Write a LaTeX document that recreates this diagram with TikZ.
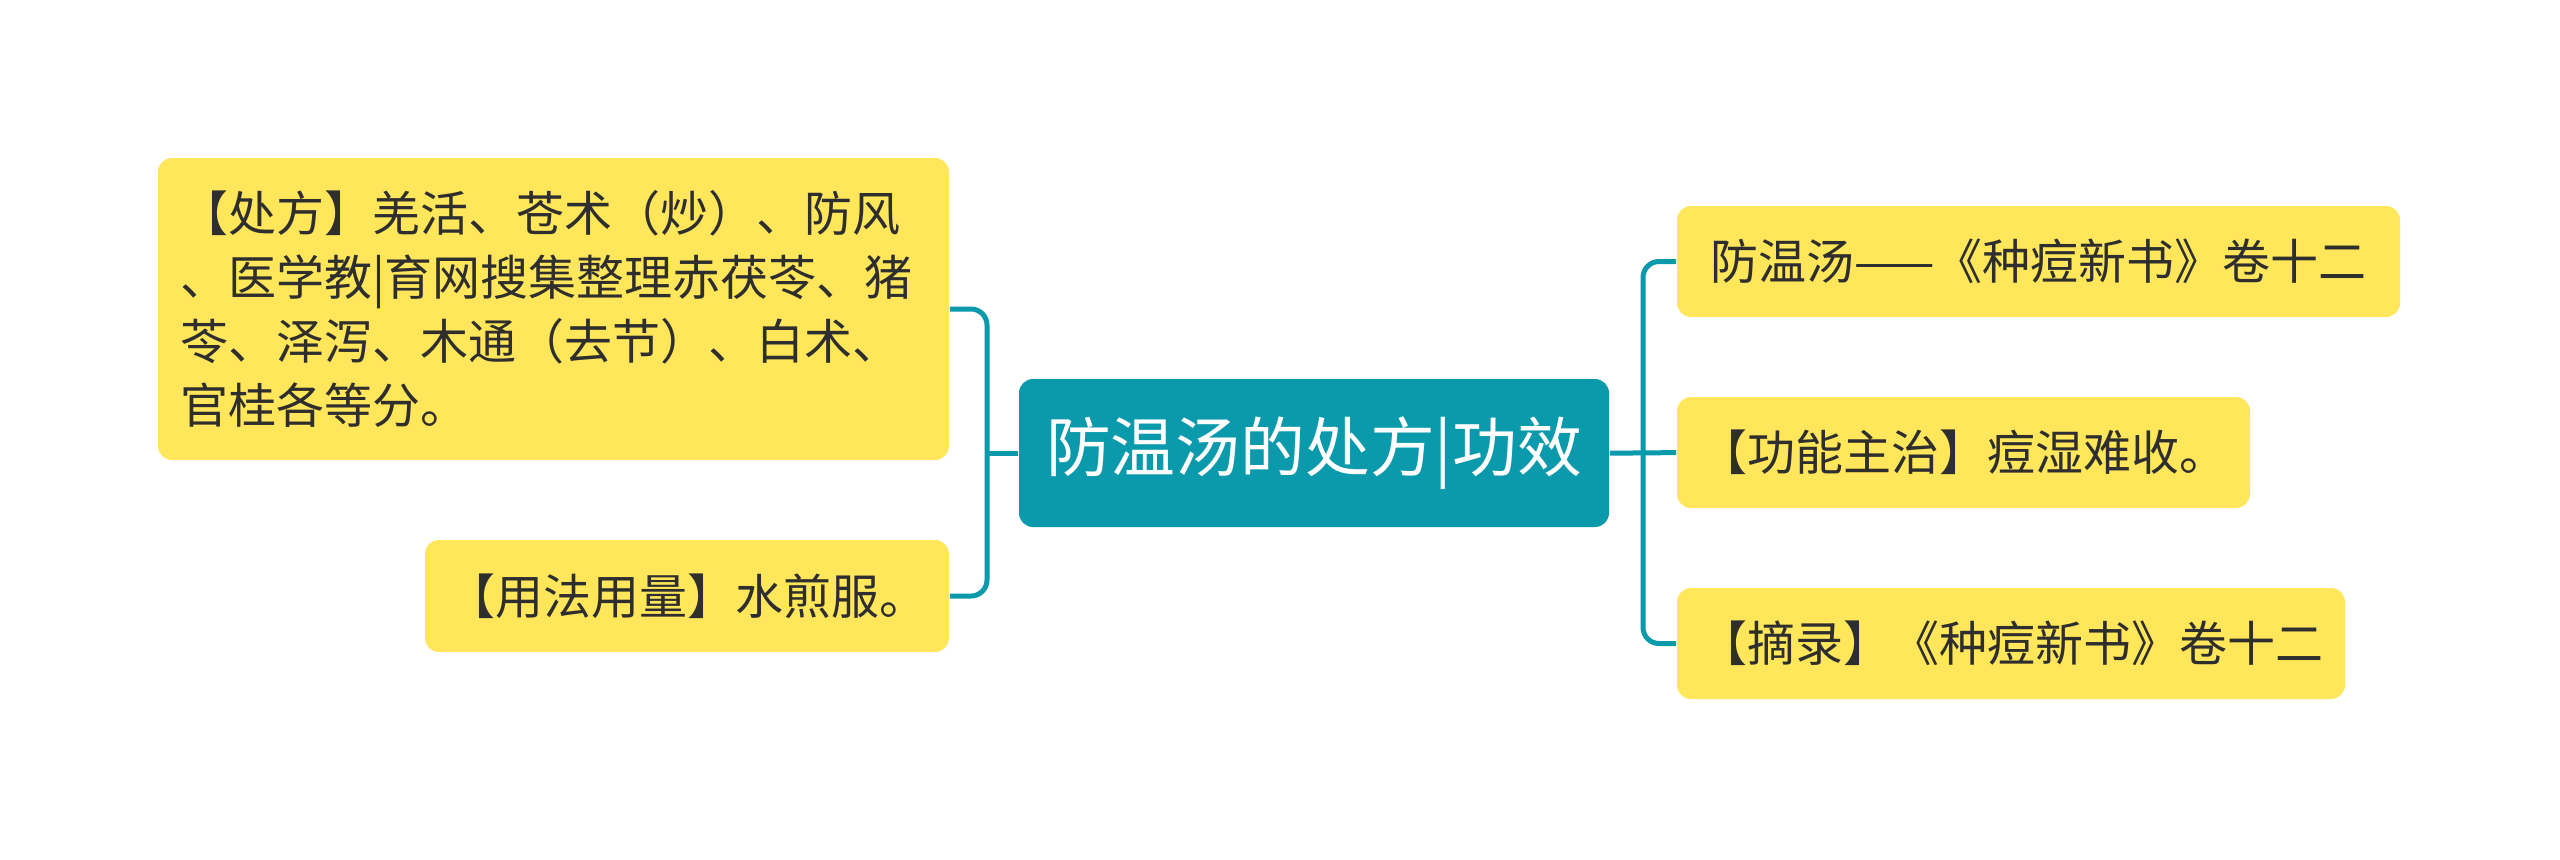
\documentclass[tikz,border=0pt]{standalone}
\usepackage{fontspec}
\setmainfont{Noto Sans CJK SC}
\definecolor{tealc}{HTML}{0A9AAC}
\definecolor{yel}{HTML}{FFE65A}
\definecolor{txtc}{HTML}{2E2E2E}
\begin{document}
\begin{tikzpicture}[x=0.25pt,y=-0.25pt,
  leaf/.style={fill=yel, draw=none, rounded corners=3.5pt, inner xsep=0pt, inner ysep=0pt,
    text=txtc, font=\fontsize{12}{16}\selectfont, minimum height=27.75pt},
  root/.style={fill=tealc, draw=none, rounded corners=3.5pt, inner sep=0pt,
    text=white, font=\fontsize{16.2}{20}\selectfont, minimum width=147.5pt, minimum height=37pt},
  conn/.style={draw=tealc, line width=1.25pt, rounded corners=4pt}]
\useasboundingbox (0,0) rectangle (2560,859);
\fill[white] (0,0) rectangle (2560,859);

\node[root] (c) at (1314,453) {防温汤的处方|功效};

\node[leaf, minimum height=75.5pt, text width=186.75pt, inner xsep=5.5pt, align=left] (b1) at (553.5,309)
  {【处方】羌活、苍术（炒）、防风\\、医学教|育网搜集整理赤茯苓、猪\\苓、泽泻、木通（去节）、白术、\\官桂各等分。};
\node[leaf, minimum width=131pt, minimum height=28pt] (b2) at (687,596) {【用法用量】水煎服。};

\node[leaf, minimum width=180.75pt] (r1) at (2038.5,261.5) {防温汤——《种痘新书》卷十二};
\node[leaf, minimum width=143.25pt] (r2) at (1963.5,452.5) {【功能主治】痘湿难收。};
\node[leaf, minimum width=167pt] (r3) at (2011,643.5) {【摘录】《种痘新书》卷十二};

\coordinate (jl) at (987,453);
\coordinate (jr) at (1643,453);
\draw[conn] (b1.east) -| (jl) |- (b2.east);
\draw[conn] (c.west) -- (jl);
\draw[conn] (r1.west) -| (jr) |- (r3.west);
\draw[conn] (c.east) -- (jr) -- (r2.west);
\end{tikzpicture}
\end{document}
